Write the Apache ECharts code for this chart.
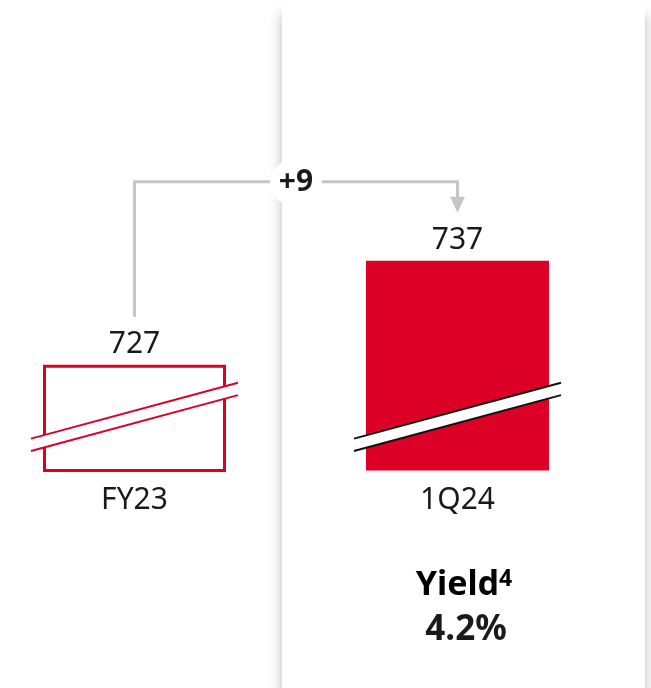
<!DOCTYPE html>
<html>
<head>
<meta charset="utf-8">
<script src="https://cdn.jsdelivr.net/npm/echarts@6/dist/echarts.min.js"></script>
<style>
  html, body { margin: 0; padding: 0; background: #fff; }
  #chart { width: 651px; height: 688px; }
</style>
</head>
<body>
<div id="chart"></div>
<script>
// Net interest income-style comparison: two periods, broken value axis
const categories = ['FY23', '1Q24'];
const values = [727, 737];
const changeLabel = '+9';
const breakValue = 722;          // value level where the axis break is drawn
const yieldTitle = 'Yield';
const yieldNote = '4';
const yieldValue = '4.2%';

const RED = '#dc0027';
const INK = '#1a1a1a';
const GREY = '#c6c6c6';
const FONT = '"Noto Sans", "Open Sans", sans-serif';
const BAR_W = 183;

const chart = echarts.init(document.getElementById('chart'));

const option = {
  animation: false,
  backgroundColor: '#fff',
  grid: {
    left: -27, width: 646, top: 229.5, bottom: 217.5,
    containLabel: false, outerBoundsMode: 'none'
  },
  xAxis: {
    type: 'category',
    data: categories,
    axisLine: { show: false },
    axisTick: { show: false },
    axisLabel: { fontSize: 30, color: INK, fontFamily: FONT, margin: 15 }
  },
  yAxis: { type: 'value', min: 716.85, max: 740, show: false, splitLine: { show: false } },
  graphic: [
    {
      // white card behind the current-period column
      type: 'rect', z: -10, silent: true,
      shape: { x: 282, y: 0, width: 363, height: 760 },
      style: { fill: '#fff', shadowBlur: 12, shadowOffsetY: 14, shadowColor: 'rgba(0,0,0,0.28)' }
    },
    {
      type: 'text', z: 10, x: 464, y: 585,
      style: {
        text: '{t|' + yieldTitle + '}{s|' + yieldNote + '}',
        align: 'center', verticalAlign: 'middle',
        rich: {
          t: { fontSize: 34, fontWeight: 'bold', fontFamily: FONT, color: INK, lineHeight: 34 },
          s: { fontSize: 23, fontWeight: 'bold', fontFamily: FONT, color: INK, lineHeight: 22, verticalAlign: 'top' }
        }
      }
    },
    {
      type: 'text', z: 10, x: 466, y: 630,
      style: {
        text: yieldValue, align: 'center', verticalAlign: 'middle',
        fontSize: 35, fontWeight: 'bold', fontFamily: FONT, fill: INK
      }
    }
  ],
  series: [
    {
      type: 'bar',
      barWidth: BAR_W,
      z: 2,
      data: values.map((v, i) => ({
        value: v,
        itemStyle: i === 0
          ? { color: '#fff', borderColor: RED, borderWidth: 3 }
          : { color: RED }
      })),
      label: {
        show: true, position: 'top', distance: 5,
        fontSize: 30, color: INK, fontFamily: FONT
      }
    },
    {
      // diagonal axis-break band across each bar
      type: 'custom',
      z: 5,
      data: values.map((v, i) => [i, breakValue]),
      renderItem(params, api) {
        const c = api.coord([api.value(0), api.value(1)]);
        const half = BAR_W / 2 + 12;
        const dy = half * 0.27;
        const gap = 6.2;
        const lineColor = params.dataIndex === 0 ? RED : '#111';
        const up = [[c[0] - half, c[1] - gap + dy], [c[0] + half, c[1] - gap - dy]];
        const lo = [[c[0] - half, c[1] + gap + dy], [c[0] + half, c[1] + gap - dy]];
        return {
          type: 'group',
          children: [
            { type: 'polygon', shape: { points: [up[0], up[1], lo[1], lo[0]] }, style: { fill: '#fff' } },
            { type: 'line', shape: { x1: up[0][0], y1: up[0][1], x2: up[1][0], y2: up[1][1] }, style: { stroke: lineColor, lineWidth: 2 } },
            { type: 'line', shape: { x1: lo[0][0], y1: lo[0][1], x2: lo[1][0], y2: lo[1][1] }, style: { stroke: lineColor, lineWidth: 2 } }
          ]
        };
      }
    },
    {
      // change connector from the first bar to the second with arrow and delta badge
      type: 'custom',
      z: 6,
      dimensions: ['x0', 'y0', 'x1', 'y1'],
      encode: { x: [0, 2], y: [1, 3] },
      data: [[0, values[0], 1, values[1]]],
      renderItem(params, api) {
        const a = api.coord([api.value(0), api.value(1)]);
        const b = api.coord([api.value(2), api.value(3)]);
        const lift = 48, rise = 79, head = 16;
        const top = Math.min(a[1], b[1]) - rise;
        const tipY = b[1] - lift;
        const mx = (a[0] + b[0]) / 2;
        return {
          type: 'group',
          children: [
            {
              type: 'polyline',
              shape: { points: [[a[0], a[1] - lift], [a[0], top], [b[0], top], [b[0], tipY - head + 1]] },
              style: { stroke: GREY, lineWidth: 3, fill: null, lineJoin: 'miter' }
            },
            {
              type: 'polygon',
              shape: { points: [[b[0] - 7.5, tipY - head], [b[0] + 7.5, tipY - head], [b[0], tipY]] },
              style: { fill: GREY }
            },
            {
              type: 'rect',
              shape: { x: mx - 26, y: top - 22, width: 52, height: 46, r: 23 },
              style: { fill: '#fff' }
            },
            {
              type: 'text', x: mx, y: top + 1,
              style: {
                text: changeLabel, align: 'center', verticalAlign: 'middle',
                fontSize: 30, fontWeight: 'bold', fontFamily: FONT, fill: INK
              }
            }
          ]
        };
      }
    }
  ]
};

chart.setOption(option);
</script>
</body>
</html>
